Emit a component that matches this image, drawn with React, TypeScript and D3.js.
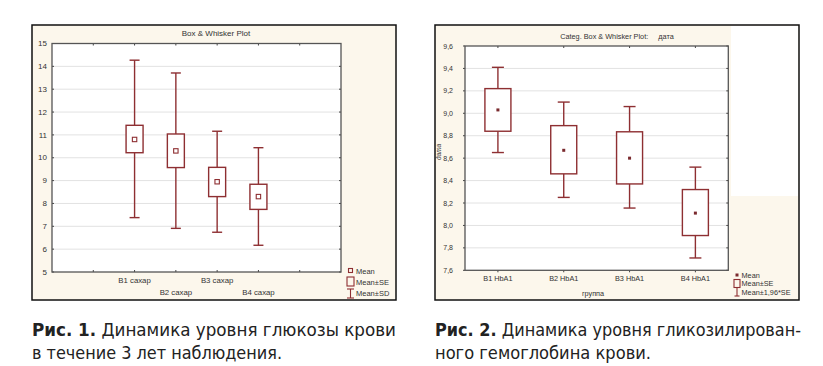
import React, { useEffect, useRef } from 'react';
import * as d3 from 'd3';

const WIDTH = 823;
const HEIGHT = 366;

// Fig. 1 – glucose
const sugarCats = ['B1 сахар', 'B2 сахар', 'B3 сахар', 'B4 сахар'];
const sugarMean = [10.8, 10.3, 8.95, 8.3];
const sugarSeLow = [10.22, 9.57, 8.3, 7.74];
const sugarSeHigh = [11.42, 11.04, 9.58, 8.84];
const sugarSdLow = [7.38, 6.91, 6.74, 6.17];
const sugarSdHigh = [14.27, 13.71, 11.16, 10.44];
const sugarTicks = [5, 6, 7, 8, 9, 10, 11, 12, 13, 14, 15];

// Fig. 2 – HbA1c
const hbCats = ['B1 HbA1', 'B2 HbA1', 'B3 HbA1', 'B4 HbA1'];
const hbMean = [9.03, 8.67, 8.6, 8.11];
const hbSeLow = [8.84, 8.46, 8.37, 7.91];
const hbSeHigh = [9.22, 8.89, 8.835, 8.32];
const hbCiLow = [8.65, 8.25, 8.155, 7.71];
const hbCiHigh = [9.41, 9.1, 9.06, 8.52];
const hbTicks = [7.6, 7.8, 8.0, 8.2, 8.4, 8.6, 8.8, 9.0, 9.2, 9.4, 9.6];

const RED = '#8e2f32';
const CREAM = '#fcf7ec';
const FONT = 'Arial, "Liberation Sans", sans-serif';
const NARROW = '"Liberation Sans Narrow", "DejaVu Sans Condensed", "Arial Narrow", sans-serif';

export default function App() {
  const ref = useRef<SVGSVGElement>(null);

  useEffect(() => {
    const svg = d3.select(ref.current);
    svg.selectAll('*').remove();

    // ---------- left panel ----------
    const L = { x0: 52, x1: 341, y0: 43.5, y1: 272 };
    svg.append('rect').attr('x', 32).attr('y', 25).attr('width', 364).attr('height', 275)
      .attr('fill', CREAM).attr('stroke', '#111').attr('stroke-width', 1.5);
    svg.append('rect').attr('x', L.x0).attr('y', L.y0).attr('width', L.x1 - L.x0).attr('height', L.y1 - L.y0)
      .attr('fill', '#fff');

    const xL = d3.scaleLinear().domain([-1, 6]).range([L.x0, L.x1]);
    const yL = d3.scaleLinear().domain([5, 15]).range([L.y1, L.y0]);

    const gL = svg.append('g');
    gL.selectAll('.grid').data(sugarTicks.slice(1, -1)).enter().append('line')
      .attr('x1', L.x0).attr('x2', L.x1).attr('y1', d => yL(d)).attr('y2', d => yL(d))
      .attr('stroke', '#e2e2e2').attr('stroke-width', 1);
    gL.selectAll('.ylab').data(sugarTicks).enter().append('text')
      .attr('x', 47).attr('y', d => yL(d) + 2.7).attr('text-anchor', 'end')
      .attr('font-family', FONT).attr('font-size', 8).attr('fill', '#333').text(d => d);
    gL.selectAll('.ytk').data(sugarTicks).enter().append('line')
      .attr('x1', L.x0).attr('x2', L.x0 + 2).attr('y1', d => yL(d)).attr('y2', d => yL(d)).attr('stroke', '#444');
    gL.selectAll('.ytkr').data(sugarTicks).enter().append('line')
      .attr('x1', L.x1).attr('x2', L.x1 - 2).attr('y1', d => yL(d)).attr('y2', d => yL(d)).attr('stroke', '#444');
    const xTicksL = d3.range(0, 6);
    gL.selectAll('.xtk').data(xTicksL).enter().append('line')
      .attr('x1', d => xL(d)).attr('x2', d => xL(d)).attr('y1', L.y0).attr('y2', L.y0 + 2).attr('stroke', '#444');
    gL.selectAll('.xtkb').data(xTicksL).enter().append('line')
      .attr('x1', d => xL(d)).attr('x2', d => xL(d)).attr('y1', L.y1).attr('y2', L.y1 - 2).attr('stroke', '#444');
    gL.selectAll('.xlab').data(sugarCats).enter().append('text')
      .attr('x', (d, i) => xL(i + 1)).attr('y', (d, i) => (i % 2 === 0 ? 283 : 295))
      .attr('text-anchor', 'middle').attr('font-family', FONT).attr('font-size', 7.8).attr('fill', '#333').text(d => d);

    const wL = 17, capL = 10;
    sugarCats.forEach((c, i) => {
      const cx = xL(i + 1);
      const g = gL.append('g').attr('stroke', RED).attr('stroke-width', 1.4).attr('fill', 'none');
      g.append('line').attr('x1', cx).attr('x2', cx).attr('y1', yL(sugarSdHigh[i])).attr('y2', yL(sugarSeHigh[i]));
      g.append('line').attr('x1', cx).attr('x2', cx).attr('y1', yL(sugarSeLow[i])).attr('y2', yL(sugarSdLow[i]));
      g.append('line').attr('x1', cx - capL / 2).attr('x2', cx + capL / 2).attr('y1', yL(sugarSdHigh[i])).attr('y2', yL(sugarSdHigh[i]));
      g.append('line').attr('x1', cx - capL / 2).attr('x2', cx + capL / 2).attr('y1', yL(sugarSdLow[i])).attr('y2', yL(sugarSdLow[i]));
      g.append('rect').attr('x', cx - wL / 2).attr('y', yL(sugarSeHigh[i])).attr('width', wL)
        .attr('height', yL(sugarSeLow[i]) - yL(sugarSeHigh[i])).attr('fill', '#fff');
      g.append('rect').attr('x', cx - 2.2).attr('y', yL(sugarMean[i]) - 2.2).attr('width', 4.4).attr('height', 4.4)
        .attr('stroke-width', 1.1);
    });

    gL.append('rect').attr('x', L.x0).attr('y', L.y0).attr('width', L.x1 - L.x0).attr('height', L.y1 - L.y0)
      .attr('fill', 'none').attr('stroke', '#555').attr('stroke-width', 1.3);

    gL.append('text').attr('x', 216).attr('y', 35.5).attr('text-anchor', 'middle')
      .attr('font-family', FONT).attr('font-size', 8).attr('fill', '#333').text('Box & Whisker Plot');

    // legend left
    const lg = gL.append('g').attr('stroke', RED).attr('fill', 'none').attr('stroke-width', 1.1);
    lg.append('rect').attr('x', 348.5).attr('y', 268.5).attr('width', 4).attr('height', 4);
    lg.append('rect').attr('x', 347).attr('y', 277).attr('width', 7).attr('height', 9);
    lg.append('line').attr('x1', 350.5).attr('x2', 350.5).attr('y1', 289).attr('y2', 298);
    lg.append('line').attr('x1', 347).attr('x2', 354).attr('y1', 289).attr('y2', 289);
    lg.append('line').attr('x1', 347).attr('x2', 354).attr('y1', 298).attr('y2', 298);
    ['Mean', 'Mean±SE', 'Mean±SD'].forEach((t, i) => {
      gL.append('text').attr('x', 356).attr('y', 273.5 + i * 11.2).attr('font-family', FONT).attr('font-size', 7.5)
        .attr('fill', '#333').text(t);
    });

    // ---------- right panel ----------
    const R = { x0: 465, x1: 728.3, y0: 46, y1: 270.3 };
    svg.append('rect').attr('x', 435).attr('y', 25).attr('width', 364).attr('height', 275)
      .attr('fill', CREAM).attr('stroke', '#111').attr('stroke-width', 1.5);
    svg.append('rect').attr('x', 731).attr('y', 26).attr('width', 67).attr('height', 170).attr('fill', '#fff');
    svg.append('rect').attr('x', R.x0).attr('y', R.y0).attr('width', R.x1 - R.x0).attr('height', R.y1 - R.y0)
      .attr('fill', '#fff');

    const xR = d3.scaleBand().domain(hbCats).range([R.x0, R.x1]).paddingInner(0).paddingOuter(0);
    const yR = d3.scaleLinear().domain([7.6, 9.6]).range([R.y1, R.y0]);
    const cxR = (c: string) => (xR(c) as number) + xR.bandwidth() / 2;
    const fmt = (d: number) => d.toFixed(1).replace('.', ',');

    const gR = svg.append('g');
    gR.selectAll('.grid').data(hbTicks.slice(1, -1)).enter().append('line')
      .attr('x1', R.x0).attr('x2', R.x1).attr('y1', d => yR(d)).attr('y2', d => yR(d))
      .attr('stroke', '#e2e2e2').attr('stroke-width', 1);
    gR.selectAll('.ylab').data(hbTicks).enter().append('text')
      .attr('x', 453).attr('y', d => yR(d) + 2.5).attr('text-anchor', 'end')
      .attr('font-family', FONT).attr('font-size', 7).attr('fill', '#333').text(d => fmt(d));
    gR.selectAll('.ytk').data(hbTicks).enter().append('line')
      .attr('x1', R.x0).attr('x2', R.x0 - 2).attr('y1', d => yR(d)).attr('y2', d => yR(d)).attr('stroke', '#444');
    gR.selectAll('.ytkr').data(hbTicks).enter().append('line')
      .attr('x1', R.x1).attr('x2', R.x1 - 2).attr('y1', d => yR(d)).attr('y2', d => yR(d)).attr('stroke', '#444');
    gR.selectAll('.xtk').data(hbCats).enter().append('line')
      .attr('x1', d => cxR(d)).attr('x2', d => cxR(d)).attr('y1', R.y0).attr('y2', R.y0 + 2).attr('stroke', '#444');
    gR.selectAll('.xtkb').data(hbCats).enter().append('line')
      .attr('x1', d => cxR(d)).attr('x2', d => cxR(d)).attr('y1', R.y1).attr('y2', R.y1 + 2).attr('stroke', '#444');
    gR.selectAll('.xlab').data(hbCats).enter().append('text')
      .attr('x', d => cxR(d)).attr('y', 280.5)
      .attr('text-anchor', 'middle').attr('font-family', FONT).attr('font-size', 7.3).attr('fill', '#333').text(d => d);

    const wR = 26, capR = 12;
    hbCats.forEach((c, i) => {
      const cx = cxR(c);
      const g = gR.append('g').attr('stroke', RED).attr('stroke-width', 1.4).attr('fill', 'none');
      g.append('line').attr('x1', cx).attr('x2', cx).attr('y1', yR(hbCiHigh[i])).attr('y2', yR(hbSeHigh[i]));
      g.append('line').attr('x1', cx).attr('x2', cx).attr('y1', yR(hbSeLow[i])).attr('y2', yR(hbCiLow[i]));
      g.append('line').attr('x1', cx - capR / 2).attr('x2', cx + capR / 2).attr('y1', yR(hbCiHigh[i])).attr('y2', yR(hbCiHigh[i]));
      g.append('line').attr('x1', cx - capR / 2).attr('x2', cx + capR / 2).attr('y1', yR(hbCiLow[i])).attr('y2', yR(hbCiLow[i]));
      g.append('rect').attr('x', cx - wR / 2).attr('y', yR(hbSeHigh[i])).attr('width', wR)
        .attr('height', yR(hbSeLow[i]) - yR(hbSeHigh[i])).attr('fill', '#fff');
      gR.append('rect').attr('x', cx - 1.5).attr('y', yR(hbMean[i]) - 1.5).attr('width', 3).attr('height', 3)
        .attr('fill', '#7a2a2e');
    });

    gR.append('rect').attr('x', R.x0).attr('y', R.y0).attr('width', R.x1 - R.x0).attr('height', R.y1 - R.y0)
      .attr('fill', 'none').attr('stroke', '#555').attr('stroke-width', 1.3);

    gR.append('text').attr('x', 617).attr('y', 39).attr('text-anchor', 'middle')
      .attr('font-family', FONT).attr('font-size', 7.3).attr('fill', '#333')
      .attr('xml:space', 'preserve').text('Categ. Box & Whisker Plot:     дата');
    gR.append('text').attr('x', 593).attr('y', 296).attr('text-anchor', 'middle')
      .attr('font-family', FONT).attr('font-size', 7.3).attr('fill', '#333').text('группа');
    gR.append('text').attr('transform', 'translate(441,152) rotate(-90)').attr('text-anchor', 'middle')
      .attr('font-family', FONT).attr('font-size', 6.5).attr('font-style', 'italic').attr('fill', '#333').text('дата');

    // legend right
    const lr = gR.append('g').attr('stroke', RED).attr('fill', 'none').attr('stroke-width', 1.1);
    gR.append('rect').attr('x', 735.5).attr('y', 273.5).attr('width', 3).attr('height', 3).attr('fill', '#7a2a2e');
    lr.append('rect').attr('x', 734).attr('y', 279.5).attr('width', 6).attr('height', 8);
    lr.append('line').attr('x1', 737).attr('x2', 737).attr('y1', 287.5).attr('y2', 296);
    lr.append('line').attr('x1', 734.5).attr('x2', 739.5).attr('y1', 296).attr('y2', 296);
    ['Mean', 'Mean±SE', 'Mean±1,96*SE'].forEach((t, i) => {
      gR.append('text').attr('x', 741.5).attr('y', 277.5 + i * 8.8).attr('font-family', FONT).attr('font-size', 7.3)
        .attr('fill', '#333').text(t);
    });

    // ---------- captions ----------
    const cap = svg.append('g').attr('font-family', NARROW).attr('font-size', 17.5).attr('fill', '#222');
    const line = (x: number, y: number, bold: string, rest: string, len: number | null) => {
      const t = cap.append('text').attr('x', x).attr('y', y);
      if (len) t.attr('textLength', len).attr('lengthAdjust', 'spacingAndGlyphs');
      if (bold) t.append('tspan').attr('font-weight', 'bold').text(bold);
      t.append('tspan').text(rest);
    };
    line(32, 336, 'Рис. 1.', ' Динамика уровня глюкозы крови', 364);
    line(32, 359, '', 'в течение 3 лет наблюдения.', 250);
    line(435, 336, 'Рис. 2.', ' Динамика уровня гликозилирован-', 366);
    line(435, 359, '', 'ного гемоглобина крови.', 216);
  }, []);

  return (
    <div style={{ position: 'fixed', left: 0, top: 0 }}>
      <svg ref={ref} width={WIDTH} height={HEIGHT} style={{ display: 'block', background: '#fff' }} />
    </div>
  );
}
